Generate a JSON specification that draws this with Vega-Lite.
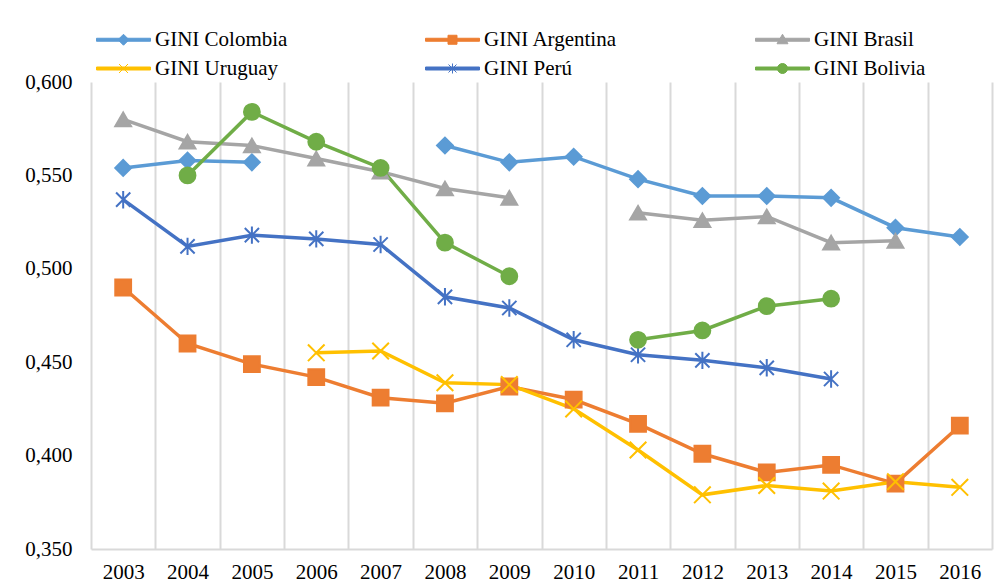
{
  "$schema": "https://vega.github.io/schema/vega-lite/v6.json",
  "width": 901,
  "height": 467,
  "autosize": {"type": "none"},
  "padding": {"left": 91, "top": 82, "right": 14, "bottom": 35},
  "background": "white",
  "config": {"view": {"stroke": null}, "font": "Liberation Serif"},
  "data": {
    "values": [
      {"year": "2003", "serie": "GINI Colombia", "v": 0.554},
      {"year": "2004", "serie": "GINI Colombia", "v": 0.558},
      {"year": "2005", "serie": "GINI Colombia", "v": 0.557},
      {"year": "2006", "serie": "GINI Colombia", "v": null},
      {"year": "2007", "serie": "GINI Colombia", "v": null},
      {"year": "2008", "serie": "GINI Colombia", "v": 0.566},
      {"year": "2009", "serie": "GINI Colombia", "v": 0.557},
      {"year": "2010", "serie": "GINI Colombia", "v": 0.560},
      {"year": "2011", "serie": "GINI Colombia", "v": 0.548},
      {"year": "2012", "serie": "GINI Colombia", "v": 0.539},
      {"year": "2013", "serie": "GINI Colombia", "v": 0.539},
      {"year": "2014", "serie": "GINI Colombia", "v": 0.538},
      {"year": "2015", "serie": "GINI Colombia", "v": 0.522},
      {"year": "2016", "serie": "GINI Colombia", "v": 0.517},
      {"year": "2003", "serie": "GINI Argentina", "v": 0.490},
      {"year": "2004", "serie": "GINI Argentina", "v": 0.460},
      {"year": "2005", "serie": "GINI Argentina", "v": 0.449},
      {"year": "2006", "serie": "GINI Argentina", "v": 0.442},
      {"year": "2007", "serie": "GINI Argentina", "v": 0.431},
      {"year": "2008", "serie": "GINI Argentina", "v": 0.428},
      {"year": "2009", "serie": "GINI Argentina", "v": 0.437},
      {"year": "2010", "serie": "GINI Argentina", "v": 0.430},
      {"year": "2011", "serie": "GINI Argentina", "v": 0.417},
      {"year": "2012", "serie": "GINI Argentina", "v": 0.401},
      {"year": "2013", "serie": "GINI Argentina", "v": 0.391},
      {"year": "2014", "serie": "GINI Argentina", "v": 0.395},
      {"year": "2015", "serie": "GINI Argentina", "v": 0.385},
      {"year": "2016", "serie": "GINI Argentina", "v": 0.416},
      {"year": "2003", "serie": "GINI Brasil", "v": 0.580},
      {"year": "2004", "serie": "GINI Brasil", "v": 0.568},
      {"year": "2005", "serie": "GINI Brasil", "v": 0.566},
      {"year": "2006", "serie": "GINI Brasil", "v": 0.559},
      {"year": "2007", "serie": "GINI Brasil", "v": 0.552},
      {"year": "2008", "serie": "GINI Brasil", "v": 0.543},
      {"year": "2009", "serie": "GINI Brasil", "v": 0.538},
      {"year": "2010", "serie": "GINI Brasil", "v": null},
      {"year": "2011", "serie": "GINI Brasil", "v": 0.530},
      {"year": "2012", "serie": "GINI Brasil", "v": 0.526},
      {"year": "2013", "serie": "GINI Brasil", "v": 0.528},
      {"year": "2014", "serie": "GINI Brasil", "v": 0.514},
      {"year": "2015", "serie": "GINI Brasil", "v": 0.515},
      {"year": "2006", "serie": "GINI Uruguay", "v": 0.455},
      {"year": "2007", "serie": "GINI Uruguay", "v": 0.456},
      {"year": "2008", "serie": "GINI Uruguay", "v": 0.439},
      {"year": "2009", "serie": "GINI Uruguay", "v": 0.438},
      {"year": "2010", "serie": "GINI Uruguay", "v": 0.425},
      {"year": "2011", "serie": "GINI Uruguay", "v": 0.403},
      {"year": "2012", "serie": "GINI Uruguay", "v": 0.379},
      {"year": "2013", "serie": "GINI Uruguay", "v": 0.384},
      {"year": "2014", "serie": "GINI Uruguay", "v": 0.381},
      {"year": "2015", "serie": "GINI Uruguay", "v": 0.386},
      {"year": "2016", "serie": "GINI Uruguay", "v": 0.383},
      {"year": "2003", "serie": "GINI Perú", "v": 0.537},
      {"year": "2004", "serie": "GINI Perú", "v": 0.512},
      {"year": "2005", "serie": "GINI Perú", "v": 0.518},
      {"year": "2006", "serie": "GINI Perú", "v": 0.516},
      {"year": "2007", "serie": "GINI Perú", "v": 0.513},
      {"year": "2008", "serie": "GINI Perú", "v": 0.485},
      {"year": "2009", "serie": "GINI Perú", "v": 0.479},
      {"year": "2010", "serie": "GINI Perú", "v": 0.462},
      {"year": "2011", "serie": "GINI Perú", "v": 0.454},
      {"year": "2012", "serie": "GINI Perú", "v": 0.451},
      {"year": "2013", "serie": "GINI Perú", "v": 0.447},
      {"year": "2014", "serie": "GINI Perú", "v": 0.441},
      {"year": "2004", "serie": "GINI Bolivia", "v": 0.550},
      {"year": "2005", "serie": "GINI Bolivia", "v": 0.584},
      {"year": "2006", "serie": "GINI Bolivia", "v": 0.568},
      {"year": "2007", "serie": "GINI Bolivia", "v": 0.554},
      {"year": "2008", "serie": "GINI Bolivia", "v": 0.514},
      {"year": "2009", "serie": "GINI Bolivia", "v": 0.496},
      {"year": "2010", "serie": "GINI Bolivia", "v": null},
      {"year": "2011", "serie": "GINI Bolivia", "v": 0.462},
      {"year": "2012", "serie": "GINI Bolivia", "v": 0.467},
      {"year": "2013", "serie": "GINI Bolivia", "v": 0.480},
      {"year": "2014", "serie": "GINI Bolivia", "v": 0.484}
    ]
  },
  "encoding": {
    "x": {
      "field": "year",
      "type": "ordinal",
      "bandPosition": 0.5,
      "scale": {"type": "band", "paddingInner": 0, "paddingOuter": 0},
      "axis": {
        "title": null,
        "tickBand": "extent",
        "grid": true,
        "gridColor": "#d9d9d9",
        "gridWidth": 2,
        "domainColor": "#d9d9d9",
        "domainWidth": 2,
        "ticks": false,
        "labelAngle": 0,
        "labelFont": "Liberation Serif",
        "labelFontSize": 21,
        "labelColor": "#000000",
        "labelPadding": 12
      }
    },
    "y": {
      "field": "v",
      "type": "quantitative",
      "scale": {"domain": [0.35, 0.6], "zero": false, "nice": false},
      "axis": {
        "title": null,
        "values": [0.35, 0.4, 0.45, 0.5, 0.55, 0.6],
        "labelExpr": "replace(format(datum.value, '.3f'), '.', ',')",
        "grid": false,
        "domain": false,
        "ticks": false,
        "labelPadding": 19,
        "labelFont": "Liberation Serif",
        "labelFontSize": 21,
        "labelColor": "#000000"
      }
    }
  },
  "layer": [
    {
      "mark": {"type": "line", "strokeWidth": 3.5, "invalid": "break-paths-show-domains"},
      "encoding": {
        "color": {
          "field": "serie",
          "type": "nominal",
          "scale": {
            "domain": ["GINI Colombia", "GINI Argentina", "GINI Brasil", "GINI Uruguay", "GINI Perú", "GINI Bolivia"],
            "range": ["#5B9BD5", "#ED7D31", "#A5A5A5", "#FFC000", "#4472C4", "#70AD47"]
          },
          "legend": {
            "orient": "none",
            "legendX": 22,
            "legendY": -53,
            "direction": "horizontal",
            "columns": 3,
            "title": null,
            "labelFont": "Liberation Serif",
            "labelFontSize": 21,
            "labelColor": "#000000",
            "labelLimit": 300,
            "symbolSize": 400,
            "symbolStrokeWidth": 1,
            "symbolOpacity": 1,
            "labelOffset": 21,
            "columnPadding": 135,
            "rowPadding": 7,
            "symbolType": {"expr": "datum.value === 'GINI Colombia' ? 'M-2.7,-0.15H2.7V0.15H-2.7Z M0,-0.55L0.55,0L0,0.55L-0.55,0Z' : datum.value === 'GINI Argentina' ? 'M-2.7,-0.15H2.7V0.15H-2.7Z M-0.45,-0.45H0.45V0.45H-0.45Z' : datum.value === 'GINI Brasil' ? 'M-2.7,-0.15H2.7V0.15H-2.7Z M0,-0.55L0.55,0.4H-0.55Z' : datum.value === 'GINI Uruguay' ? 'M-2.7,-0.15H2.7V0.15H-2.7Z M-0.45,-0.45L0.45,0.45M-0.45,0.45L0.45,-0.45' : datum.value === 'GINI Perú' ? 'M-2.7,-0.15H2.7V0.15H-2.7Z M0,-0.5V0.5M-0.4,-0.4L0.4,0.4M-0.4,0.4L0.4,-0.4' : 'M-2.7,-0.15H2.7V0.15H-2.7Z M-0.5,0A0.5,0.5,0,1,1,0.5,0A0.5,0.5,0,1,1,-0.5,0Z'"},
            "symbolFillColor": {"expr": "scale('color', datum.value)"},
            "symbolStrokeColor": {"expr": "scale('color', datum.value)"}
          }
        }
      }
    },
    {
      "transform": [{"filter": "datum.serie === 'GINI Colombia' && isValid(datum.v)"}],
      "mark": {"type": "point", "shape": "diamond", "filled": true, "size": 250, "opacity": 1, "fill": "#5B9BD5", "stroke": "#5B9BD5", "strokeWidth": 2}
    },
    {
      "transform": [{"filter": "datum.serie === 'GINI Argentina' && isValid(datum.v)"}],
      "mark": {"type": "point", "shape": "square", "filled": true, "size": 250, "opacity": 1, "fill": "#ED7D31", "stroke": "#ED7D31", "strokeWidth": 2}
    },
    {
      "transform": [{"filter": "datum.serie === 'GINI Brasil' && isValid(datum.v)"}],
      "mark": {"type": "point", "shape": "triangle-up", "filled": true, "size": 250, "opacity": 1, "fill": "#A5A5A5", "stroke": "#A5A5A5", "strokeWidth": 2}
    },
    {
      "transform": [{"filter": "datum.serie === 'GINI Uruguay' && isValid(datum.v)"}],
      "mark": {"type": "point", "shape": "M-1.05,-1.05L1.05,1.05M-1.05,1.05L1.05,-1.05", "filled": false, "size": 250, "opacity": 1, "stroke": "#FFC000", "strokeWidth": 2}
    },
    {
      "transform": [{"filter": "datum.serie === 'GINI Perú' && isValid(datum.v)"}],
      "mark": {"type": "point", "shape": "M0,-1.1V1.1M-0.9,-0.9L0.9,0.9M-0.9,0.9L0.9,-0.9", "filled": false, "size": 250, "opacity": 1, "stroke": "#4472C4", "strokeWidth": 2}
    },
    {
      "transform": [{"filter": "datum.serie === 'GINI Bolivia' && isValid(datum.v)"}],
      "mark": {"type": "point", "shape": "circle", "filled": true, "size": 250, "opacity": 1, "fill": "#70AD47", "stroke": "#70AD47", "strokeWidth": 2}
    }
  ]
}
